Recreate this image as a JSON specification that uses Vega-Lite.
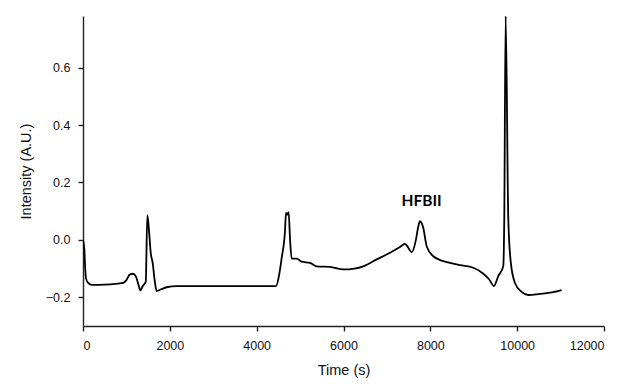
{
  "$schema": "https://vega.github.io/schema/vega-lite/v6.json",
  "autosize": "none",
  "width": 521,
  "height": 310,
  "padding": {"left": 83, "top": 16, "right": 21, "bottom": 61},
  "background": "white",
  "config": {
    "view": {"stroke": null},
    "axis": {
      "domainColor": "#222222",
      "tickColor": "#222222",
      "domainWidth": 1.4,
      "tickWidth": 1.4,
      "tickSize": 5,
      "grid": false,
      "labelFont": "Liberation Sans",
      "labelFontSize": 12.5,
      "labelColor": "#111111",
      "labelPadding": 8,
      "titleFont": "Liberation Sans",
      "titleFontSize": 14.5,
      "titleFontWeight": "normal",
      "titleColor": "#111111"
    }
  },
  "datasets": {
    "trace": [
      {"t": 0, "v": 0.0},
      {"t": 30, "v": -0.03},
      {"t": 50, "v": -0.097},
      {"t": 69, "v": -0.135},
      {"t": 120, "v": -0.15},
      {"t": 200, "v": -0.157},
      {"t": 500, "v": -0.156},
      {"t": 929, "v": -0.15},
      {"t": 1000, "v": -0.14},
      {"t": 1082, "v": -0.12},
      {"t": 1150, "v": -0.118},
      {"t": 1220, "v": -0.128},
      {"t": 1280, "v": -0.158},
      {"t": 1320, "v": -0.176},
      {"t": 1380, "v": -0.16},
      {"t": 1445, "v": -0.146},
      {"t": 1482, "v": 0.086},
      {"t": 1527, "v": 0.019},
      {"t": 1560, "v": -0.045},
      {"t": 1605, "v": -0.08},
      {"t": 1650, "v": -0.14},
      {"t": 1697, "v": -0.178},
      {"t": 1800, "v": -0.172},
      {"t": 1927, "v": -0.165},
      {"t": 2157, "v": -0.161},
      {"t": 3000, "v": -0.161},
      {"t": 4000, "v": -0.161},
      {"t": 4445, "v": -0.161},
      {"t": 4520, "v": -0.12},
      {"t": 4576, "v": -0.063},
      {"t": 4652, "v": 0.03},
      {"t": 4675, "v": 0.094},
      {"t": 4705, "v": 0.088},
      {"t": 4737, "v": 0.097},
      {"t": 4767, "v": 0.007},
      {"t": 4806, "v": -0.065},
      {"t": 4921, "v": -0.065},
      {"t": 5036, "v": -0.076},
      {"t": 5228, "v": -0.08},
      {"t": 5382, "v": -0.092},
      {"t": 5689, "v": -0.094},
      {"t": 5995, "v": -0.103},
      {"t": 6250, "v": -0.1},
      {"t": 6456, "v": -0.092},
      {"t": 6764, "v": -0.068},
      {"t": 7071, "v": -0.045},
      {"t": 7300, "v": -0.025},
      {"t": 7416, "v": -0.014},
      {"t": 7469, "v": -0.022},
      {"t": 7570, "v": -0.043},
      {"t": 7669, "v": 0.001},
      {"t": 7720, "v": 0.045},
      {"t": 7762, "v": 0.065},
      {"t": 7837, "v": 0.042},
      {"t": 7915, "v": -0.022},
      {"t": 8068, "v": -0.057},
      {"t": 8261, "v": -0.072},
      {"t": 8452, "v": -0.08},
      {"t": 8682, "v": -0.088},
      {"t": 8990, "v": -0.097},
      {"t": 9220, "v": -0.118},
      {"t": 9358, "v": -0.138},
      {"t": 9466, "v": -0.161},
      {"t": 9565, "v": -0.126},
      {"t": 9680, "v": -0.092},
      {"t": 9703, "v": 0.077},
      {"t": 9735, "v": 0.78},
      {"t": 9795, "v": 0.077},
      {"t": 9850, "v": -0.074},
      {"t": 9949, "v": -0.15},
      {"t": 10103, "v": -0.181},
      {"t": 10256, "v": -0.192},
      {"t": 10525, "v": -0.188},
      {"t": 10755, "v": -0.184},
      {"t": 11024, "v": -0.175}
    ],
    "labels": [
      {"t": 7800, "v": 0.135, "text": "HFBII"}
    ]
  },
  "layer": [
    {
      "data": {"name": "trace"},
      "mark": {"type": "line", "color": "black", "strokeWidth": 1.8, "clip": true, "interpolate": "monotone"},
      "encoding": {
        "x": {
          "field": "t", "type": "quantitative", "title": "Time (s)",
          "scale": {"domain": [0, 12000], "nice": false, "zero": false},
          "axis": {"values": [0, 2000, 4000, 6000, 8000, 10000, 12000], "format": "d", "titlePadding": 12}
        },
        "y": {
          "field": "v", "type": "quantitative", "title": "Intensity (A.U.)",
          "scale": {"domain": [-0.3, 0.78], "nice": false, "zero": false},
          "axis": {"values": [-0.2, 0, 0.2, 0.4, 0.6], "format": ".1f", "titlePadding": 12}
        }
      }
    },
    {
      "data": {"name": "labels"},
      "mark": {"type": "text", "font": "Lato", "fontWeight": "bold", "fontSize": 15.5, "color": "black", "align": "center", "baseline": "middle"},
      "encoding": {
        "x": {"field": "t", "type": "quantitative"},
        "y": {"field": "v", "type": "quantitative"},
        "text": {"field": "text"}
      }
    }
  ]
}
